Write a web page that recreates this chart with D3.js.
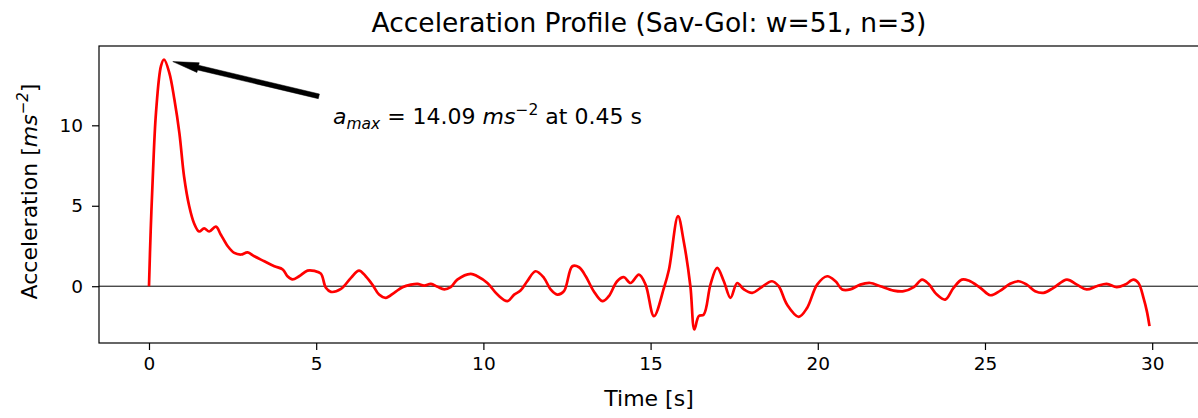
<!DOCTYPE html>
<html>
<head>
<meta charset="utf-8">
<script src="https://cdn.jsdelivr.net/npm/d3@7"></script>
<style>
  body { margin: 0; background: #fff; }
  svg { display: block; font-family: "DejaVu Sans", sans-serif; }
</style>
</head>
<body>
<script>
// time [s] and smoothed acceleration [m/s^2]
var time = [0, 0.05, 0.11, 0.21, 0.36, 0.45, 0.61, 0.76, 0.91, 1.05,
  1.2, 1.35, 1.5, 1.65, 1.8, 2.0, 2.15, 2.35, 2.55, 2.75,
  2.95, 3.15, 3.45, 3.75, 4.0, 4.14, 4.29, 4.49, 4.74, 4.95,
  5.14, 5.29, 5.44, 5.74, 6.04, 6.28, 6.48, 6.68, 6.88, 7.08,
  7.33, 7.58, 7.83, 8.03, 8.23, 8.43, 8.63, 8.83, 9.02, 9.22,
  9.62, 9.82, 10.12, 10.42, 10.72, 10.92, 11.11, 11.31, 11.56, 11.81,
  12.01, 12.21, 12.41, 12.66, 12.86, 13.06, 13.3, 13.56, 13.75, 14.0,
  14.2, 14.4, 14.65, 14.85, 15.1, 15.4, 15.55, 15.82, 15.99, 16.19,
  16.31, 16.44, 16.59, 16.79, 16.99, 17.19, 17.39, 17.59, 17.79, 18.04,
  18.29, 18.63, 18.83, 19.08, 19.43, 19.68, 19.98, 20.28, 20.53, 20.73,
  20.97, 21.27, 21.57, 21.87, 22.27, 22.57, 22.87, 23.12, 23.31, 23.56,
  23.81, 24.06, 24.31, 24.51, 24.86, 25.16, 25.46, 25.75, 26.0, 26.25,
  26.5, 26.75, 27.05, 27.45, 27.75, 28.04, 28.34, 28.64, 28.94, 29.19,
  29.44, 29.59, 29.74, 29.84, 29.92]

var accel = [0, 3.4, 6.6, 10.8, 13.7, 14.09, 13.25, 11.6, 9.5, 6.8,
  5.0, 3.9, 3.4, 3.6, 3.4, 3.7, 3.2, 2.5, 2.07, 1.97,
  2.1, 1.86, 1.55, 1.24, 1.04, 0.62, 0.42, 0.62, 0.97, 0.95,
  0.78, -0.1, -0.35, -0.17, 0.52, 0.97, 0.62, 0.1, -0.52, -0.72,
  -0.41, -0.06, 0.1, 0.15, 0.04, 0.15, -0.04, -0.2, -0.06, 0.41,
  0.77, 0.62, 0.2, -0.52, -0.93, -0.52, -0.27, 0.31, 0.93, 0.52,
  -0.2, -0.52, -0.31, 1.24, 1.18, 0.62, -0.31, -0.93, -0.62, 0.31,
  0.56, 0.2, 0.72, 0.1, -1.86, -0.1, 1.04, 4.35, 2.8, 0,
  -2.69, -1.86, -1.76, 0.1, 1.14, 0.31, -0.72, 0.2, -0.2, -0.41,
  -0.1, 0.31, 0, -1.14, -1.9, -1.35, 0.1, 0.62, 0.31, -0.2,
  -0.2, 0.1, 0.2, 0, -0.27, -0.31, -0.06, 0.41, 0.15, -0.52,
  -0.83, -0.1, 0.41, 0.35, -0.1, -0.56, -0.27, 0.15, 0.31, 0.1,
  -0.31, -0.41, -0.1, 0.41, 0.1, -0.2, 0, 0.15, -0.06, 0.1,
  0.41, 0.2, -0.72, -1.55, -2.48]

var xTicks = [0, 5, 10, 15, 20, 25, 30]
var yTicks = [0, 5, 10]

// peak annotation
var peakT = 0.45, peakA = 14.09
var labelAt = [5.5, 10.1]     // text anchor (data coords)
var arrowFrom = [5.08, 11.8]  // arrow tail (data coords)

var width = 1198, height = 418
var margin = {top: 46, right: -1, bottom: 75, left: 99}

var svg = d3.select("body").append("svg")
    .attr("width", width)
    .attr("height", height)

var x = d3.scaleLinear()
    .domain([-1.495, 31.4])
    .range([margin.left, width - margin.right])

var yMin = d3.min(accel), yMax = d3.max(accel)
var pad = (yMax - yMin) * 0.05
var y = d3.scaleLinear()
    .domain([yMin - pad, yMax + pad])
    .range([height - margin.bottom, margin.top])

var pts = time.map(function(t, i) { return [t, accel[i]] })

// zero line
svg.append("line")
    .attr("x1", x.range()[0]).attr("x2", x.range()[1])
    .attr("y1", y(0)).attr("y2", y(0))
    .attr("stroke", "#000").attr("stroke-width", 1)

var line = d3.line()
    .x(function(d) { return x(d[0]) })
    .y(function(d) { return y(d[1]) })
    .curve(d3.curveCatmullRom.alpha(0.5))

svg.append("path")
    .datum(pts)
    .attr("fill", "none")
    .attr("stroke", "#ff0000")
    .attr("stroke-width", 2.7)
    .attr("stroke-linejoin", "round")
    .attr("d", line)

// axes
svg.append("g")
    .attr("transform", "translate(0," + y.range()[0] + ")")
    .call(d3.axisBottom(x).tickValues(xTicks).tickSize(7).tickPadding(7))
svg.append("g")
    .attr("transform", "translate(" + x.range()[0] + ",0)")
    .call(d3.axisLeft(y).tickValues(yTicks).tickSize(7).tickPadding(9))

svg.selectAll(".domain").remove()
svg.selectAll(".tick text")
    .attr("font-family", "DejaVu Sans")
    .attr("font-size", 18.5)
    .attr("fill", "#000")
svg.selectAll(".tick line").attr("stroke", "#000").attr("stroke-width", 1.2)

// frame
svg.append("rect")
    .attr("x", x.range()[0]).attr("y", y.range()[1])
    .attr("width", x.range()[1] - x.range()[0])
    .attr("height", y.range()[0] - y.range()[1])
    .attr("fill", "none").attr("stroke", "#000").attr("stroke-width", 1.2)

// title and labels
svg.append("text")
    .attr("x", (x.range()[0] + x.range()[1]) / 2)
    .attr("y", 32)
    .attr("text-anchor", "middle")
    .attr("font-size", 26.5)
    .text("Acceleration Profile (Sav-Gol: w=51, n=3)")

svg.append("text")
    .attr("x", (x.range()[0] + x.range()[1]) / 2)
    .attr("y", 406)
    .attr("text-anchor", "middle")
    .attr("font-size", 22)
    .text("Time [s]")

var ylab = svg.append("text")
    .attr("transform", "translate(37," + ((y.range()[0] + y.range()[1]) / 2 - 3) + ") rotate(-90)")
    .attr("text-anchor", "middle")
    .attr("font-size", 22)
ylab.append("tspan").text("Acceleration [")
ylab.append("tspan").attr("font-style", "italic").text("ms")
ylab.append("tspan").attr("font-style", "italic").attr("font-size", 15).attr("dy", -9).text("\u22122")
ylab.append("tspan").attr("dy", 9).text("]")

// annotation arrow
var tip = [x(peakT), y(peakA)]
var tail = [x(arrowFrom[0]), y(arrowFrom[1])]
var dx = tail[0] - tip[0], dy = tail[1] - tip[1]
var len = Math.sqrt(dx * dx + dy * dy)
var ux = dx / len, uy = dy / len, nx = -uy, ny = ux
var t0 = [tip[0] + ux * 9, tip[1] + uy * 9]
var headLen = 26, headW = 5, shaftW = 2.4
var hb = [t0[0] + ux * headLen, t0[1] + uy * headLen]
var arrowPts = [
  t0,
  [hb[0] + nx * headW, hb[1] + ny * headW],
  [hb[0] + nx * shaftW, hb[1] + ny * shaftW],
  [tail[0] + nx * shaftW, tail[1] + ny * shaftW],
  [tail[0] - nx * shaftW, tail[1] - ny * shaftW],
  [hb[0] - nx * shaftW, hb[1] - ny * shaftW],
  [hb[0] - nx * headW, hb[1] - ny * headW]
]
svg.append("path")
    .attr("d", "M" + arrowPts.join("L") + "Z")
    .attr("fill", "#000").attr("stroke", "#000").attr("stroke-width", 0.5)

var ann = svg.append("text")
    .attr("x", x(labelAt[0]))
    .attr("y", y(labelAt[1]))
    .attr("font-size", 22)
ann.append("tspan").attr("font-style", "italic").text("a")
ann.append("tspan").attr("font-style", "italic").attr("font-size", 15.5).attr("dy", 5).text("max")
ann.append("tspan").attr("dy", -5).text(" = 14.09 ")
ann.append("tspan").attr("font-style", "italic").text("ms")
ann.append("tspan").attr("font-size", 15.5).attr("dy", -9).text("\u22122")
ann.append("tspan").attr("dy", 9).text(" at 0.45 s")
</script>
</body>
</html>
